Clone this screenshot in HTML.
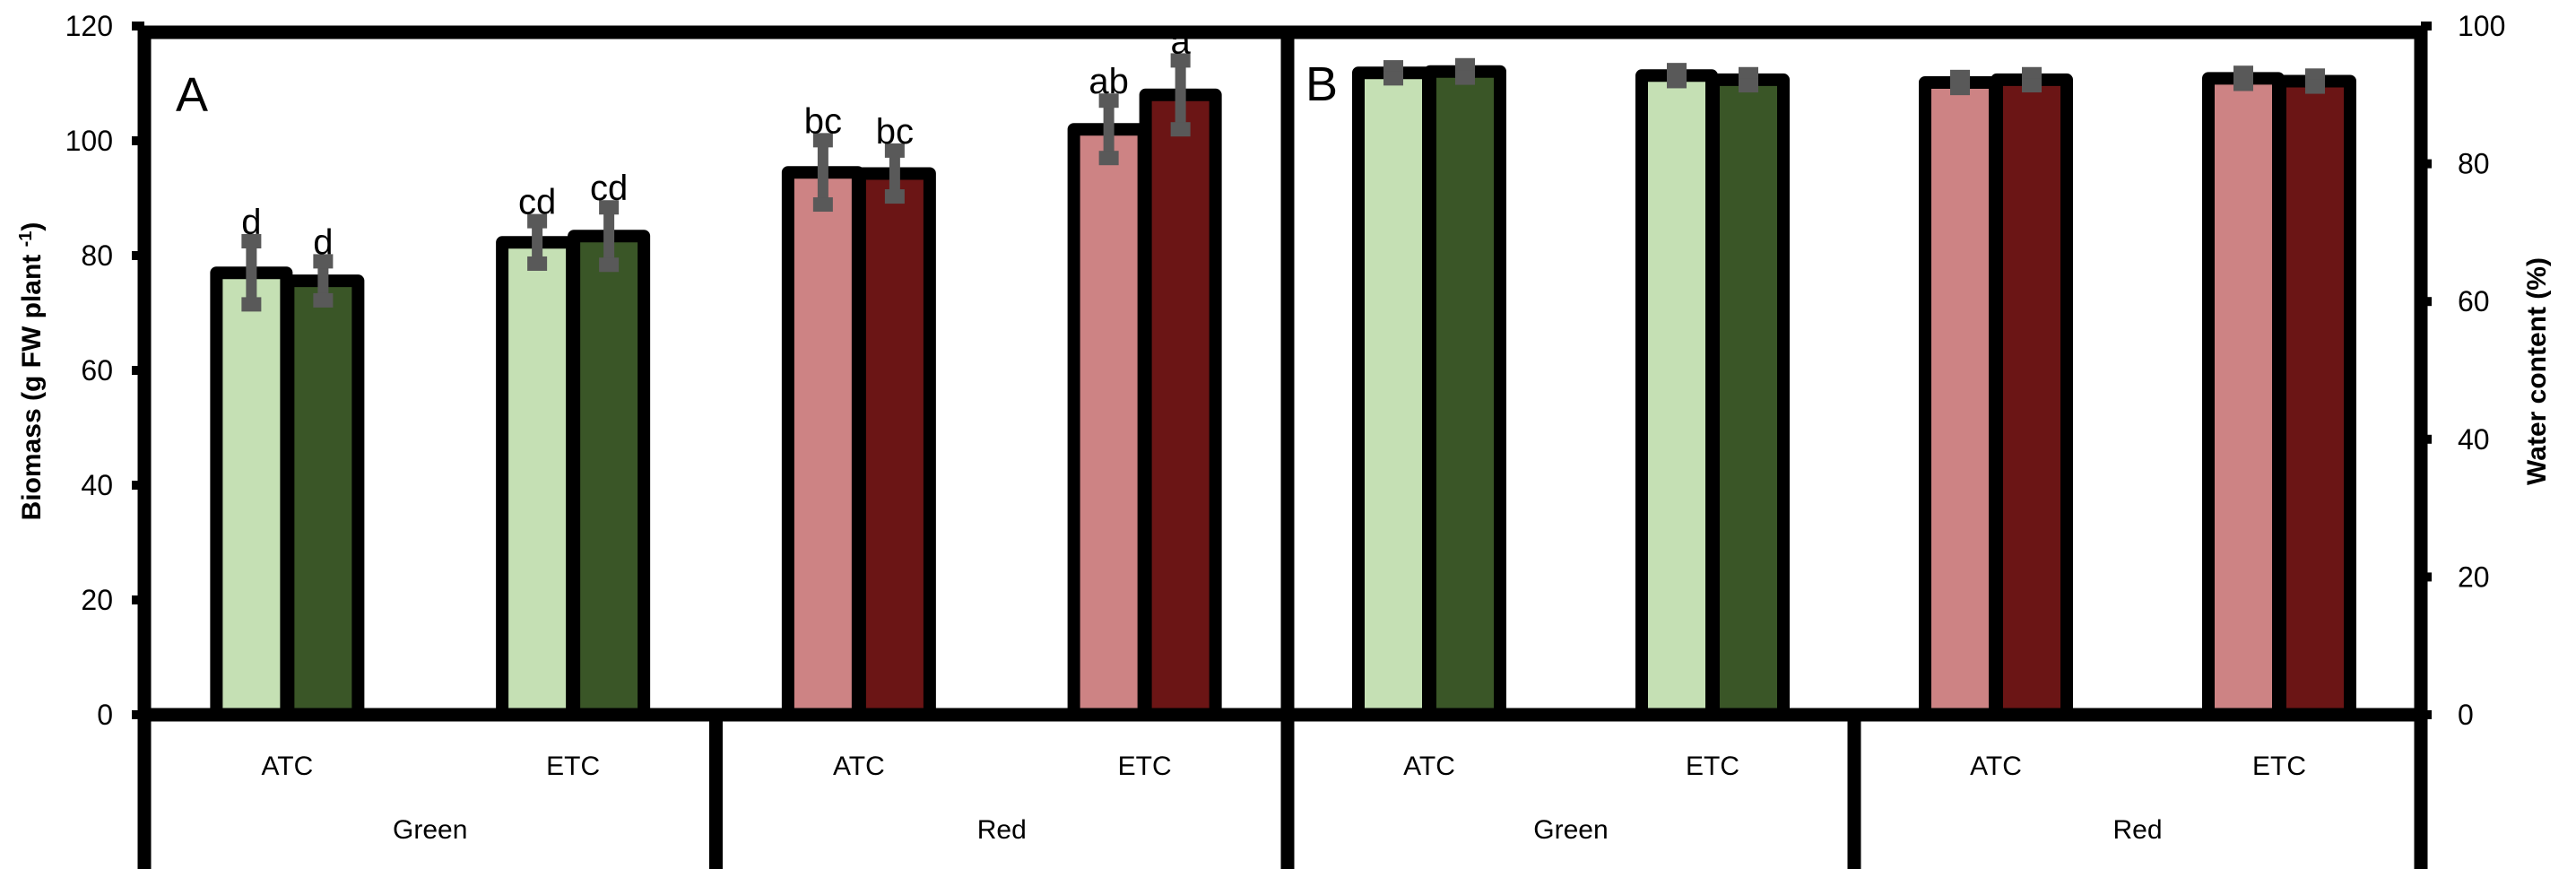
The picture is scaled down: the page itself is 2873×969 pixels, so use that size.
<!DOCTYPE html>
<html><head><meta charset="utf-8"><style>
html,body{margin:0;padding:0;background:#fff;}
svg{display:block;font-family:"Liberation Sans",sans-serif;}
</style></head><body>
<svg id="chart" width="2873" height="969" viewBox="0 0 2873 969" xmlns="http://www.w3.org/2000/svg"></svg>
<script>
const categories = ["ATC","ETC","ATC","ETC"];
const groups = ["Green","Red"];
const biomassLight = [77, 82.3, 94.5, 102];
const biomassDark = [75.6, 83.4, 94.3, 108];
const biomassLightErr = [5.5, 3.7, 5.6, 5];
const biomassDarkErr = [3.4, 5, 4, 6];
const biomassLightLetters = ["d","cd","bc","ab"];
const biomassDarkLetters = ["d","cd","bc","a"];
const waterLight = [93.2, 92.8, 91.8, 92.4];
const waterDark = [93.4, 92.2, 92.2, 92];
const waterLightErr = [0.8, 0.8, 0.8, 0.8];
const waterDarkErr = [0.9, 0.8, 0.8, 0.8];
const biomassTicks = [0,20,40,60,80,100,120];
const waterTicks = [0,20,40,60,80,100];

const svg = document.getElementById('chart');
const NS = 'http://www.w3.org/2000/svg';
function mk(tag, attrs, parent){
  const e = document.createElementNS(NS, tag);
  for (const k in attrs) e.setAttribute(k, attrs[k]);
  (parent||svg).appendChild(e);
  return e;
}
const Y0 = 797, YT = 29;
const yA = v => Y0 - (v/120)*(Y0-YT);
const yB = v => Y0 - (v/100)*(Y0-YT);
const AX0 = 161, AX1 = 1436, BX0 = 1436, BX1 = 2700;
const xA = i => AX0 + (AX1-AX0)/4*(i+0.5);
const xB = i => BX0 + (BX1-BX0)/4*(i+0.5);
const colLight = ["#c5e0b4","#c5e0b4","#cd8384","#cd8384"];
const colDark = ["#3a5627","#3a5627","#6b1515","#6b1515"];
const BW = 78, SW = 14;

function drawBars(xf, yf, light, dark, lErr, dErr, lLet, dLet, panel){
  for (let i=0;i<light.length;i++){
    const cx = xf(i);
    const sets = [[light[i], lErr[i], colLight[i], cx-BW/2-1, lLet?lLet[i]:null,'light'],
                  [dark[i], dErr[i], colDark[i], cx+BW/2+1, dLet?dLet[i]:null,'dark']];
    sets.forEach(s=>{
      const [v, err, col, bx, let_, kind] = s;
      const top = yf(v);
      const r = mk('rect',{x:bx-BW/2, y:top, width:BW, height:Y0-top, fill:col, stroke:'#000','stroke-width':SW,'stroke-linejoin':'round'});
      
      
      const et = yf(v+err), eb = yf(v-err);
      const g = mk('g',{});
      
      
      mk('line',{x1:bx,x2:bx,y1:et,y2:eb,stroke:'#595959','stroke-width':12},g);
      mk('rect',{x:bx-11,y:et-8,width:22,height:16,fill:'#595959'},g);
      mk('rect',{x:bx-11,y:eb-8,width:22,height:16,fill:'#595959'},g);
      if (let_){
        const t = mk('text',{x:bx,y:et-8,'text-anchor':'middle','font-size':40,fill:'#000'});
        t.textContent = let_;
        
        
      }
    });
  }
}
drawBars(xA, yA, biomassLight, biomassDark, biomassLightErr, biomassDarkErr, biomassLightLetters, biomassDarkLetters, 'biomass');
drawBars(xB, yB, waterLight, waterDark, waterLightErr, waterDarkErr, null, null, 'water');

const frame = mk('g',{});


mk('line',{x1:AX0-7,x2:BX1+7,y1:YT+7,y2:YT+7,stroke:'#000','stroke-width':15},frame);
mk('line',{x1:AX0-7,x2:BX1+7,y1:Y0,y2:Y0,stroke:'#000','stroke-width':15},frame);
[AX0, (AX0+AX1)/2, AX1, (BX0+BX1)/2, BX1].forEach((x,k)=>{
  const top = (k===1||k===3) ? Y0 : YT;
  mk('line',{x1:x,x2:x,y1:top,y2:969,stroke:'#000','stroke-width':15},frame);
});

biomassTicks.forEach(v=>{
  const y = yA(v);
  mk('line',{x1:AX0-14,x2:AX0,y1:y,y2:y,stroke:'#000','stroke-width':10},frame);
  const t = mk('text',{x:126,y:y+11,'text-anchor':'end','font-size':32,fill:'#000'});
  t.textContent = v;
  
  
});
waterTicks.forEach(v=>{
  const y = yB(v);
  mk('line',{x1:BX1,x2:BX1+12,y1:y,y2:y,stroke:'#000','stroke-width':10},frame);
  const t = mk('text',{x:2741,y:y+11,'text-anchor':'start','font-size':32,fill:'#000'});
  t.textContent = v;
  
  
});

for (let i=0;i<4;i++){
  [xA(i), xB(i)].forEach(cx=>{
    const t = mk('text',{x:cx,y:864,'text-anchor':'middle','font-size':30,fill:'#000'});
    t.textContent = categories[i];
    
    
  });
}
for (let g=0; g<2; g++){
  [ (xA(2*g)+xA(2*g+1))/2, (xB(2*g)+xB(2*g+1))/2 ].forEach(cx=>{
    const t = mk('text',{x:cx,y:935,'text-anchor':'middle','font-size':30,fill:'#000'});
    t.textContent = groups[g];
    
    
  });
}

const pa = mk('text',{x:196,y:124,'font-size':54,fill:'#000'}); pa.textContent='A';
 
const pb = mk('text',{x:1456,y:112,'font-size':54,fill:'#000'}); pb.textContent='B';
 

const lt = mk('text',{x:0,y:0,'text-anchor':'middle','font-size':30,'font-weight':'bold',fill:'#000',transform:'translate(45,414) rotate(-90)'});
lt.innerHTML = 'Biomass (g FW plant <tspan font-size="20" dy="-10">-1</tspan><tspan dy="10">)</tspan>';


const rt = mk('text',{x:0,y:0,'text-anchor':'middle','font-size':30,'font-weight':'bold',fill:'#000',transform:'translate(2839,414) rotate(-90)'});
rt.textContent = 'Water content (%)';


</script>
</body></html>
